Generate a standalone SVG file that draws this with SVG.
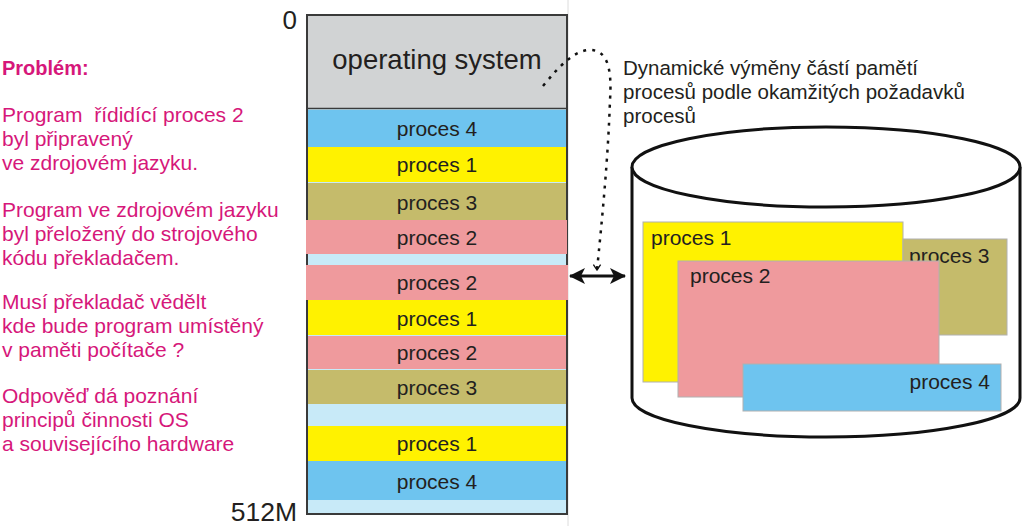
<svg xmlns="http://www.w3.org/2000/svg" width="1024" height="526" viewBox="0 0 1024 526">
<defs>
<style>
.t{font-family:"Liberation Sans",Arial,sans-serif;fill:#231f20}
.m{font-family:"Liberation Sans",Arial,sans-serif;fill:#d6177a;font-size:21px}
.pl{font-size:21px;text-anchor:middle}
.dl{font-size:21px}
.os{fill:#d1d3d4}
.b{fill:#6ec4ef}
.y{fill:#fff200}
.o{fill:#c5bb6b}
.p{fill:#ef9a9d}
.lb{fill:#c8eaf8}
.cr{stroke:#b0b0b0;stroke-width:1}
</style>
<marker id="ah" viewBox="0 0 16 16" refX="15" refY="8" markerWidth="16" markerHeight="16" orient="auto-start-reverse" markerUnits="userSpaceOnUse">
<path d="M0,0 L16,8 L0,16 L4,8 Z" fill="#111"/>
</marker>
<marker id="va" viewBox="0 0 10 10" refX="5" refY="9" markerWidth="9" markerHeight="9" orient="0" markerUnits="userSpaceOnUse">
<path d="M1,3 L5,9 L9,3" fill="none" stroke="#111" stroke-width="1.5"/>
</marker>
</defs>
<rect width="1024" height="526" fill="#fff"/>
<line x1="568" y1="0" x2="568" y2="526" stroke="#dcdcdc" stroke-width="1"/>

<g id="text-left">
<text class="m" x="2" y="75" style="font-weight:bold;font-size:20px">Problém:</text>
<text class="m" x="2" y="122" xml:space="preserve">Program  řídidící proces 2</text>
<text class="m" x="2" y="146">byl připravený</text>
<text class="m" x="2" y="170">ve zdrojovém jazyku.</text>
<text class="m" x="2" y="217">Program ve zdrojovém jazyku</text>
<text class="m" x="2" y="241">byl přeložený do strojového</text>
<text class="m" x="2" y="265">kódu překladačem.</text>
<text class="m" x="2" y="309">Musí překladač vědělt</text>
<text class="m" x="2" y="333">kde bude program umístěný</text>
<text class="m" x="2" y="357">v paměti počítače ?</text>
<text class="m" x="2" y="403">Odpověď dá poznání</text>
<text class="m" x="2" y="427">principů činnosti OS</text>
<text class="m" x="2" y="451">a souvisejícího hardware</text>
</g>

<g id="memory">
<rect x="307" y="15" width="260" height="499" fill="#c8eaf8" stroke="#3a3a3a" stroke-width="2"/>
<rect class="os" x="308" y="16" width="258" height="92"/>
<line x1="307" y1="108.5" x2="567" y2="108.5" stroke="#3a3a3a" stroke-width="1.5"/>
<text class="t" x="437" y="69" text-anchor="middle" font-size="27.5">operating system</text>
<g id="m1"><rect class="b" x="308" y="110" width="258" height="37"/><text class="t pl" x="437" y="136">proces 4</text></g>
<g id="m2"><rect class="y" x="308" y="147" width="258" height="35"/><text class="t pl" x="437" y="172">proces 1</text></g>
<g id="m3"><rect class="o" x="308" y="183" width="258" height="37"/><text class="t pl" x="437" y="210">proces 3</text></g>
<g id="m4"><rect class="p" x="306" y="220" width="261" height="34"/><text class="t pl" x="437" y="245">proces 2</text></g>
<g id="m5"><rect class="p" x="306" y="265" width="262" height="35"/><text class="t pl" x="437" y="290">proces 2</text></g>
<g id="m6"><rect class="y" x="308" y="300" width="258" height="35"/><text class="t pl" x="437" y="326">proces 1</text></g>
<g id="m7"><rect class="p" x="308" y="336" width="258" height="33"/><text class="t pl" x="437" y="360">proces 2</text></g>
<g id="m8"><rect class="o" x="308" y="370" width="258" height="34"/><text class="t pl" x="437" y="395">proces 3</text></g>
<g id="m9"><rect class="y" x="308" y="426" width="258" height="35"/><text class="t pl" x="437" y="451">proces 1</text></g>
<g id="m10"><rect class="b" x="308" y="461" width="258" height="39"/><text class="t pl" x="437" y="489">proces 4</text></g>
<text class="t" x="297" y="29" text-anchor="end" font-size="26">0</text>
<text class="t" x="297" y="521" text-anchor="end" font-size="26.5">512M</text>
</g>

<g id="disk">
<path d="M632,167 L632,398 A194,39 0 0 0 1020,398 L1020,167" fill="#fff" stroke="#111" stroke-width="3"/>
<ellipse cx="826" cy="167" rx="194" ry="40" fill="#fff" stroke="#111" stroke-width="3"/>
<g id="d1"><rect class="y cr" x="643" y="222" width="260" height="160"/><text class="t dl" x="651" y="245">proces 1</text></g>
<g id="d3"><rect class="o cr" x="903" y="239" width="104" height="96"/><text class="t dl" x="909" y="263">proces 3</text></g>
<g id="d2"><rect class="p cr" x="678" y="261" width="261" height="136"/><text class="t dl" x="690" y="283">proces 2</text></g>
<g id="d4"><rect class="b cr" x="743" y="364" width="258" height="47"/><text class="t dl" x="990" y="389" text-anchor="end">proces 4</text></g>
</g>

<g id="label-right">
<text class="t" x="623" y="75" font-size="20.5">Dynamické výměny částí pamětí</text>
<text class="t" x="623" y="99" font-size="20.5">procesů podle okamžitých požadavků</text>
<text class="t" x="623" y="123" font-size="20.5">procesů</text>
</g>

<g id="connectors">
<path d="M543,86 C560,65 575,50 590,50 C608,50 612,70 610,100 C608,160 602,220 597,270" fill="none" stroke="#111" stroke-width="2.5" stroke-dasharray="3,6" marker-end="url(#va)"/>
<line x1="570" y1="276" x2="625" y2="276" stroke="#111" stroke-width="3" marker-start="url(#ah)" marker-end="url(#ah)"/>
</g>
</svg>
